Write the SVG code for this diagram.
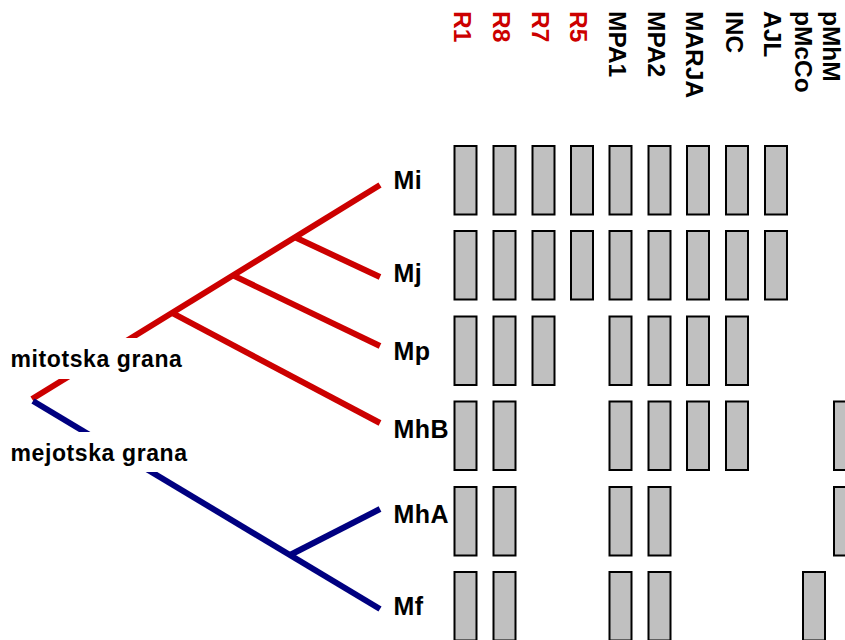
<svg xmlns="http://www.w3.org/2000/svg" width="845" height="640" viewBox="0 0 845 640">
<defs>
<style>
.red{stroke:#cc0000;stroke-width:6;fill:none;stroke-linecap:butt}
.blue{stroke:#000080;stroke-width:6;fill:none;stroke-linecap:butt}
.b{fill:#c0c0c0;stroke:#000;stroke-width:2}
.lbl{font-family:"Liberation Sans",Arial,sans-serif;font-weight:bold;font-size:25px;fill:#000;letter-spacing:0.5px}
.col{font-family:"Liberation Sans",Arial,sans-serif;font-weight:bold;font-size:24.5px;fill:#000}
.colr{fill:#cc0000}
.br{font-family:"Liberation Sans",Arial,sans-serif;font-weight:bold;font-size:23px;fill:#000;letter-spacing:0.6px}
</style>
<rect id="box" class="b" width="22" height="68.5"/>
</defs>
<rect width="845" height="640" fill="#fff"/>

<g id="connectors">
<path class="red" d="M32,399 L380,185"/>
<path class="red" d="M295,237.3 L380,277"/>
<path class="red" d="M233,275.4 L380,346"/>
<path class="red" d="M172,312.9 L380,423"/>
<path class="blue" d="M33,401 L380,609"/>
<path class="blue" d="M290,555 L380,509"/>
</g>

<g id="branch-mitotska">
<rect x="8" y="338" width="184" height="41" fill="#fff"/>
<text class="br" x="10.5" y="367">mitotska grana</text>
</g>
<g id="branch-mejotska">
<rect x="8" y="432" width="190" height="40" fill="#fff"/>
<text class="br" x="10.5" y="461">mejotska grana</text>
</g>

<g id="columns">
<text class="col colr" transform="translate(453.5,11) rotate(90)">R1</text>
<text class="col colr" transform="translate(492.5,11) rotate(90)">R8</text>
<text class="col colr" transform="translate(531.5,11) rotate(90)">R7</text>
<text class="col colr" transform="translate(569.5,11) rotate(90)">R5</text>
<text class="col" transform="translate(608.5,11) rotate(90)">MPA1</text>
<text class="col" transform="translate(647.5,11) rotate(90)">MPA2</text>
<text class="col" transform="translate(686,11) rotate(90)">MARJA</text>
<text class="col" transform="translate(725.5,11) rotate(90)">INC</text>
<text class="col" transform="translate(763.5,11) rotate(90)">AJL</text>
<text class="col" transform="translate(794.5,11) rotate(90)">pMcCo</text>
<text class="col" transform="translate(823,11) rotate(90)">pMhM</text>
</g>

<g id="node-Mi">
<text class="lbl" x="393.5" y="189">Mi</text>
<use href="#box" x="454.5" y="146"/><use href="#box" x="493.5" y="146"/><use href="#box" x="532.5" y="146"/>
<use href="#box" x="571" y="146"/><use href="#box" x="609.5" y="146"/><use href="#box" x="648.5" y="146"/>
<use href="#box" x="687" y="146"/><use href="#box" x="726" y="146"/><use href="#box" x="765" y="146"/>
</g>
<g id="node-Mj">
<text class="lbl" x="393.5" y="282">Mj</text>
<use href="#box" x="454.5" y="231"/><use href="#box" x="493.5" y="231"/><use href="#box" x="532.5" y="231"/>
<use href="#box" x="571" y="231"/><use href="#box" x="609.5" y="231"/><use href="#box" x="648.5" y="231"/>
<use href="#box" x="687" y="231"/><use href="#box" x="726" y="231"/><use href="#box" x="765" y="231"/>
</g>
<g id="node-Mp">
<text class="lbl" x="393.5" y="360">Mp</text>
<use href="#box" x="454.5" y="316.5"/><use href="#box" x="493.5" y="316.5"/><use href="#box" x="532.5" y="316.5"/>
<use href="#box" x="609.5" y="316.5"/><use href="#box" x="648.5" y="316.5"/>
<use href="#box" x="687" y="316.5"/><use href="#box" x="726" y="316.5"/>
</g>
<g id="node-MhB">
<text class="lbl" x="393.5" y="438">MhB</text>
<use href="#box" x="454.5" y="401.5"/><use href="#box" x="493.5" y="401.5"/>
<use href="#box" x="609.5" y="401.5"/><use href="#box" x="648.5" y="401.5"/>
<use href="#box" x="687" y="401.5"/><use href="#box" x="726" y="401.5"/>
<use href="#box" x="834" y="401.5"/>
</g>
<g id="node-MhA">
<text class="lbl" x="393.5" y="523">MhA</text>
<use href="#box" x="454.5" y="487"/><use href="#box" x="493.5" y="487"/>
<use href="#box" x="609.5" y="487"/><use href="#box" x="648.5" y="487"/>
<use href="#box" x="834" y="487"/>
</g>
<g id="node-Mf">
<text class="lbl" x="393.5" y="615">Mf</text>
<use href="#box" x="454.5" y="572"/><use href="#box" x="493.5" y="572"/>
<use href="#box" x="609.5" y="572"/><use href="#box" x="648.5" y="572"/>
<use href="#box" x="803" y="572"/>
</g>
</svg>
